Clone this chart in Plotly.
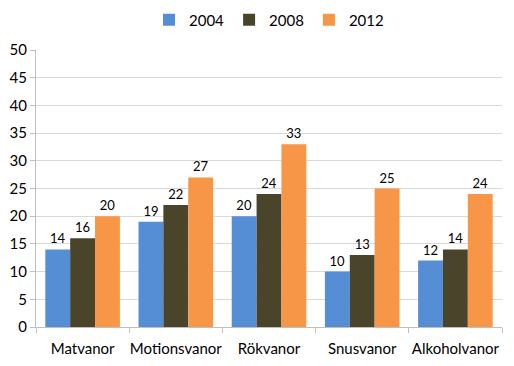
import plotly.graph_objects as go

categories = ["Matvanor", "Motionsvanor", "Rökvanor", "Snusvanor", "Alkoholvanor"]
series_names = ["2004", "2008", "2012"]
values_2004 = [14, 19, 20, 10, 12]
values_2008 = [16, 22, 24, 13, 14]
values_2012 = [20, 27, 33, 25, 24]
y_ticks = [0, 5, 10, 15, 20, 25, 30, 35, 40, 45, 50]

colors = ["#558ED5", "#4A452A", "#F79646"]
font_family = "Lato, sans-serif"

fig = go.Figure()
for name, vals, col in zip(series_names, [values_2004, values_2008, values_2012], colors):
    fig.add_trace(go.Bar(
        x=categories, y=vals, name=name, marker=dict(color=col, line=dict(width=0)),
        text=[str(v) for v in vals], textposition="outside", cliponaxis=False,
        textfont=dict(size=13, color="#000000", family=font_family),
    ))

# page body has an 8px margin, so the figure is sized/offset to compensate
fig.update_layout(
    width=506, height=358,
    margin=dict(l=28, r=12, t=42, b=39, autoexpand=False),
    paper_bgcolor="white", plot_bgcolor="white",
    barmode="group", bargap=0.2, bargroupgap=0,
    font=dict(family=font_family, size=14, color="#000000"),
    legend=dict(orientation="h", x=0.5, xanchor="center", y=1.108, yanchor="middle",
                font=dict(size=15), traceorder="normal", itemwidth=30),
    showlegend=True,
)
fig.update_xaxes(showline=True, linecolor="#BFBFBF", linewidth=1, automargin=False,
                 ticks="outside", tickson="boundaries", ticklen=5, tickcolor="#BFBFBF",
                 tickfont=dict(size=15), tickangle=0, ticklabelstandoff=8, showgrid=False)
fig.update_yaxes(range=[0, 50], tickvals=y_ticks, showgrid=True, gridcolor="#D9D9D9",
                 showline=True, linecolor="#BFBFBF", linewidth=1, automargin=False,
                 ticks="outside", ticklen=5, tickcolor="#BFBFBF",
                 tickfont=dict(size=15), zeroline=False)

fig.write_html("out.html")
